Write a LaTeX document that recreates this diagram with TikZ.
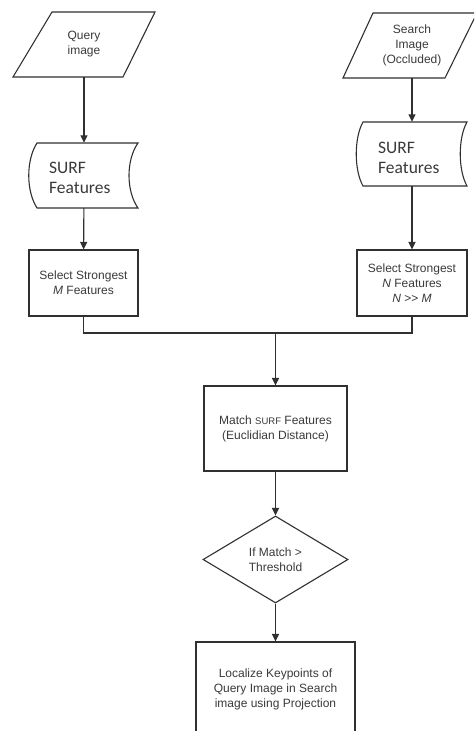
\documentclass[tikz,border=0pt]{standalone}
\usepackage{fontspec}
\setmainfont{Liberation Sans}
\newfontfamily\calibrifont{Carlito}
\usetikzlibrary{arrows.meta,shapes.geometric,calc}
\definecolor{ln}{HTML}{303030}
\definecolor{tx}{HTML}{3A3A3A}
\begin{document}
\begin{tikzpicture}[x=1pt,y=-1pt,
  shp/.style={draw=ln, line width=1.1pt, fill=white},
  lbl/.style={font=\fontsize{12}{15}\selectfont, text=tx, align=center, inner sep=0pt},
  hold/.style={lbl, minimum width=#1},
  boxn/.style={lbl, draw=ln, line width=1.1pt, fill=white},
  surft/.style={font=\calibrifont\fontsize{17.5}{20}\selectfont, text=tx, align=left, inner sep=0pt, anchor=west},
  conn/.style={draw=ln, line width=1.1pt},
  arr/.style={conn, -{Triangle[length=7.5pt,width=7pt]}}]
\clip (0,0) rectangle (474,731);
\fill[white] (0,0) rectangle (474,731);

% input parallelograms
\draw[shp] (52,12) -- (155,12) -- (123,77) -- (13,77) -- cycle;
\node[hold=90pt, minimum height=65pt] (q) at (84,44.5) {Query\\image};
\draw[shp] (373,13) -- (477,13) -- (445,78) -- (343,78) -- cycle;
\node[hold=90pt, minimum height=65pt] (s) at (412,45.5) {Search\\Image\\(Occluded)};

% stored data shapes
\draw[shp] (37,143) -- (138,143) .. controls (126,160) and (126,191) .. (138,208)
  -- (37,208) .. controls (26,191) and (26,160) .. (37,143) -- cycle;
\node[hold=100pt, minimum height=65pt] (sfl) at (84,175.5) {};
\node[surft] (sflt) at (49,178) {SURF\\Features};
\draw[shp] (363,122) -- (467,122) .. controls (458,138) and (458,170) .. (467,186)
  -- (363,186) .. controls (354,170) and (354,138) .. (363,122) -- cycle;
\node[hold=100pt, minimum height=64pt] (sfr) at (412,154) {};
\node[surft] (sfrt) at (378,157.5) {SURF\\Features};

% select boxes
\node[boxn, minimum width=109pt, minimum height=66pt] (ml) at (83.5,283)
  {Select Strongest\\\textit{M} Features};
\node[boxn, minimum width=110pt, minimum height=66pt] (mr) at (412,283)
  {Select Strongest\\\textit{N} Features\\\textit{N} >{}> \textit{M}};

% match box
\node[boxn, minimum width=143pt, minimum height=85pt] (match) at (275.5,428.5)
  {Match {\fontsize{9.5}{15}\selectfont SURF} Features\\(Euclidian Distance)};

% decision
\node[boxn, diamond, minimum width=145pt, minimum height=87pt] (dia) at (275.5,559.5)
  {If Match >\\Threshold};

% output
\node[boxn, minimum width=159pt, minimum height=94pt] (loc) at (275.5,689)
  {Localize Keypoints of\\Query Image in Search\\image using Projection};

% connectors
\draw[arr] (q) -- (sfl);
\draw[arr] (sfl) -- (ml);
\draw[arr] (s) -- (sfr);
\draw[arr] (sfr) -- (mr);
\coordinate (j) at (275.5,333);
\draw[conn] (ml.south) |- (j) -| (mr.south);
\draw[arr] (j) -- (match);
\draw[arr] (match) -- (dia);
\draw[arr] (dia) -- (loc);
\end{tikzpicture}
\end{document}
